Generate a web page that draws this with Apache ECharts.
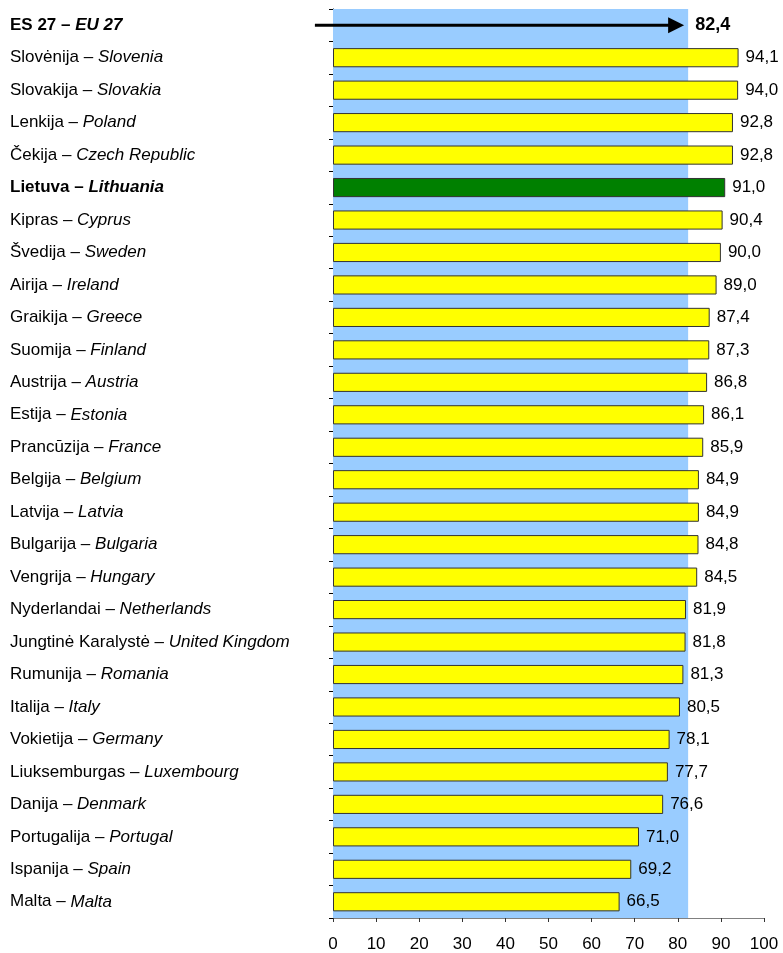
<!DOCTYPE html>
<html>
<head>
<meta charset="utf-8">
<script src="https://cdn.jsdelivr.net/npm/echarts@6/dist/echarts.min.js"></script>
<style>
  html, body { margin: 0; padding: 0; background: #fff; }
  #chart { width: 783px; height: 953px; }
</style>
</head>
<body>
<div id="chart"></div>
<script>
// country names, Lithuanian and English, top to bottom
var ltNames = ['ES 27', 'Slovėnija', 'Slovakija', 'Lenkija', 'Čekija', 'Lietuva', 'Kipras', 'Švedija',
    'Airija', 'Graikija', 'Suomija', 'Austrija', 'Estija', 'Prancūzija', 'Belgija', 'Latvija',
    'Bulgarija', 'Vengrija', 'Nyderlandai', 'Jungtinė Karalystė', 'Rumunija', 'Italija',
    'Vokietija', 'Liuksemburgas', 'Danija', 'Portugalija', 'Ispanija', 'Malta'];
var enNames = ['EU 27', 'Slovenia', 'Slovakia', 'Poland', 'Czech Republic', 'Lithuania', 'Cyprus', 'Sweden',
    'Ireland', 'Greece', 'Finland', 'Austria', 'Estonia', 'France', 'Belgium', 'Latvia',
    'Bulgaria', 'Hungary', 'Netherlands', 'United Kingdom', 'Romania', 'Italy',
    'Germany', 'Luxembourg', 'Denmark', 'Portugal', 'Spain', 'Malta'];
var values = [null, 94.1, 94.0, 92.8, 92.8, 91.0, 90.4, 90.0, 89.0, 87.4, 87.3, 86.8, 86.1, 85.9,
    84.9, 84.9, 84.8, 84.5, 81.9, 81.8, 81.3, 80.5, 78.1, 77.7, 76.6, 71.0, 69.2, 66.5];
var euAverage = 82.4;
var xTicks = [0, 10, 20, 30, 40, 50, 60, 70, 80, 90, 100];

var boldRows = ['ES 27', 'Lietuva'];
var arrowStart = -4.2; // arrow starts a little left of the axis

function fmt(v) {
    return v.toFixed(1).replace('.', ',');
}

var barData = values.map(function (v, i) {
    if (v === null) return '-';
    return {
        value: v,
        itemStyle: { color: ltNames[i] === 'Lietuva' ? '#008000' : '#FFFF00' }
    };
});

var myChart = echarts.init(document.getElementById('chart'));

var option = {
    animation: false,
    backgroundColor: '#fff',
    textStyle: { fontFamily: 'Liberation Sans, Arial, sans-serif' },
    grid: { left: 333, right: 19, top: 9, bottom: 35, containLabel: false },
    xAxis: {
        type: 'value',
        min: xTicks[0],
        max: xTicks[xTicks.length - 1],
        interval: 10,
        splitLine: { show: false },
        axisLine: { show: true, lineStyle: { color: '#808080', width: 1 } },
        axisTick: { show: true, length: 4, lineStyle: { color: '#333' } },
        axisLabel: { color: '#000', fontSize: 17, margin: 18 }
    },
    yAxis: {
        type: 'category',
        inverse: true,
        data: ltNames,
        axisLine: { show: true, lineStyle: { color: '#000', width: 1 } },
        axisTick: { show: true, length: 4, lineStyle: { color: '#000' } },
        axisLabel: {
            align: 'left',
            margin: 323,
            formatter: function (value, idx) {
                var b = boldRows.indexOf(value) >= 0 ? 'B' : '';
                return '{lt' + b + '|' + value + ' – }{en' + b + '|' + enNames[idx] + '}';
            },
            rich: {
                lt: { fontSize: 17, color: '#000' },
                en: { fontSize: 17, color: '#000', fontStyle: 'italic' },
                ltB: { fontSize: 17, color: '#000', fontWeight: 'bold' },
                enB: { fontSize: 17, color: '#000', fontStyle: 'italic', fontWeight: 'bold' }
            }
        }
    },
    series: [
        {
            type: 'bar',
            data: barData,
            barCategoryGap: '41%',
            itemStyle: { borderColor: '#333', borderWidth: 1 },
            label: {
                show: true,
                position: 'right',
                distance: 7,
                color: '#000',
                fontSize: 17,
                formatter: function (p) { return fmt(p.value); }
            },
            markArea: {
                silent: true,
                itemStyle: { color: '#99CCFF' },
                data: [[{ xAxis: 0 }, { xAxis: euAverage }]]
            },
            z: 2
        },
        {
            type: 'custom',
            clip: false,
            z: 5,
            data: [[euAverage, 0]],
            renderItem: function (params, api) {
                var end = api.coord([api.value(0), api.value(1)]);
                var start = api.coord([arrowStart, api.value(1)]);
                var tip = end[0] - 4;
                var headLen = 16;
                return {
                    type: 'group',
                    children: [
                        {
                            type: 'line',
                            shape: { x1: start[0], y1: start[1], x2: tip - headLen + 1, y2: end[1] },
                            style: { stroke: '#000', lineWidth: 3 }
                        },
                        {
                            type: 'polygon',
                            shape: { points: [[tip, end[1]], [tip - headLen, end[1] - 8], [tip - headLen, end[1] + 8]] },
                            style: { fill: '#000' }
                        },
                        {
                            type: 'text',
                            x: end[0] + 7,
                            y: end[1],
                            style: {
                                text: fmt(api.value(0)),
                                fill: '#000',
                                font: 'bold 18px Liberation Sans, Arial, sans-serif',
                                verticalAlign: 'middle',
                                align: 'left'
                            }
                        }
                    ]
                };
            }
        }
    ]
};

myChart.setOption(option);
</script>
</body>
</html>
